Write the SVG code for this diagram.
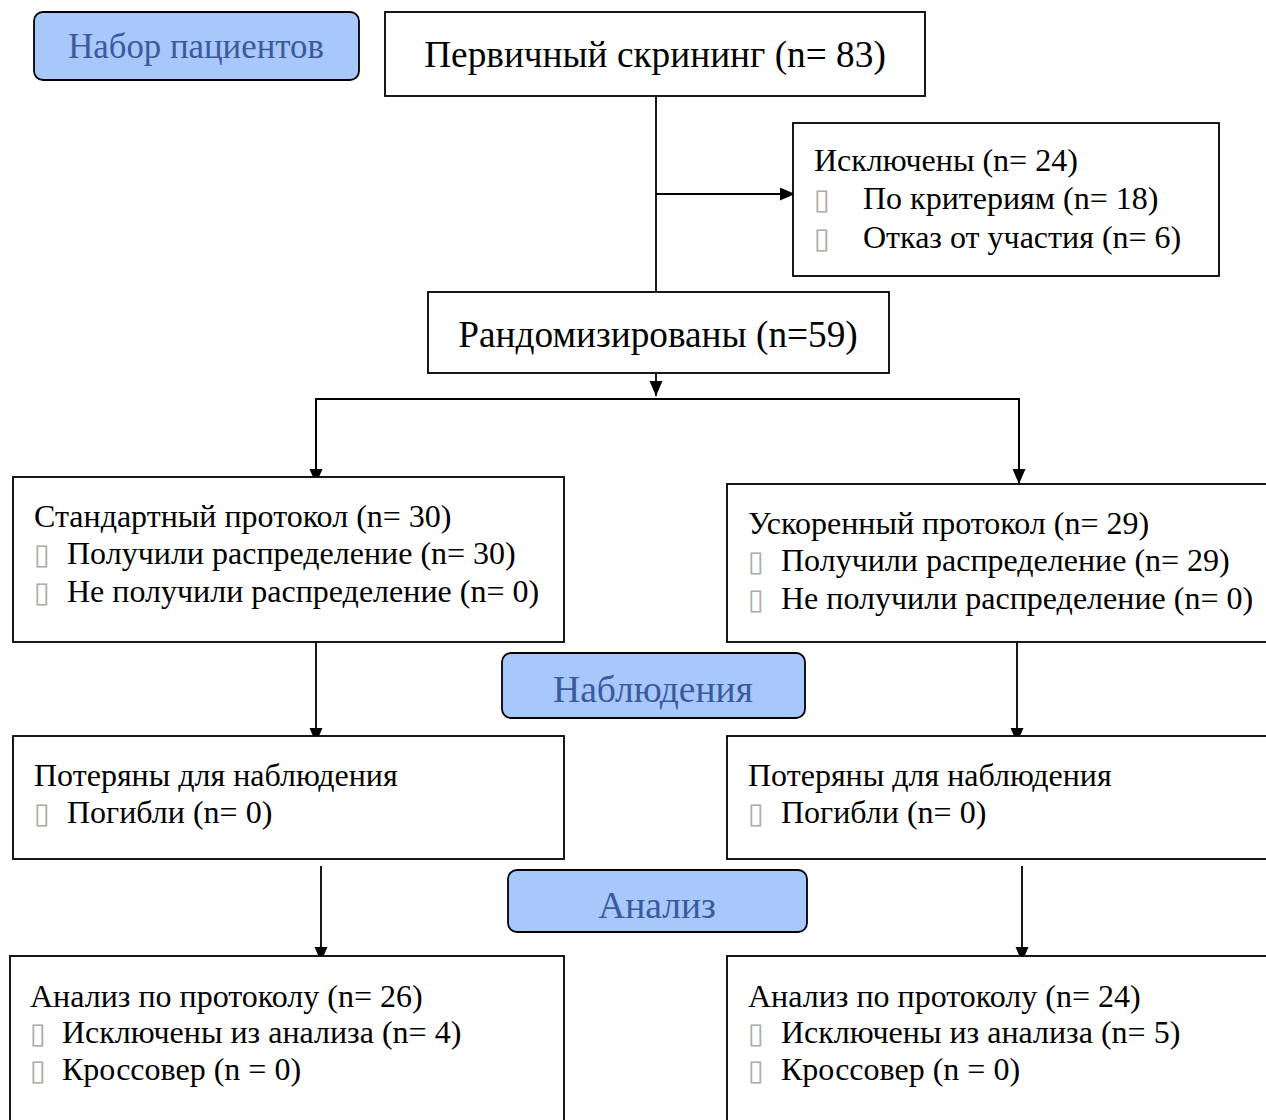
<svg xmlns="http://www.w3.org/2000/svg" width="1266" height="1120" viewBox="0 0 1266 1120">
<style>
.box{fill:#fff;stroke:#000;stroke-width:1.8}
.lab{fill:#a8c7fa;stroke:#000;stroke-width:1.8}
.t{font-family:"Liberation Serif","Times New Roman",serif;font-size:32px;fill:#000}
.tb{font-family:"Liberation Serif","Times New Roman",serif;font-size:37.3px;fill:#000}
.tl{font-family:"Liberation Serif","Times New Roman",serif;font-size:37.5px;fill:#3a5a9c}
.b{font-family:"DejaVu Sans",sans-serif;fill:#aaa;font-size:29px}
.c{stroke:#000;stroke-width:1.8;fill:none}
</style>
<defs>
<marker id="ah" markerUnits="userSpaceOnUse" markerWidth="16" markerHeight="14" refX="15" refY="6.5" orient="auto">
<path d="M0,0 L15,6.5 L0,13 z" fill="#000"/>
</marker>
</defs>
<rect width="1266" height="1120" fill="#fff"/>
<g id="connectors">
<line class="c" x1="656" y1="96" x2="656" y2="292"/>
<line class="c" x1="656" y1="194" x2="795" y2="194" marker-end="url(#ah)"/>
<line class="c" x1="656" y1="373" x2="656" y2="396" marker-end="url(#ah)"/>
<polyline class="c" points="316,483 316,399 1019,399 1019,484"/>
<line class="c" x1="316" y1="399" x2="316" y2="484" marker-end="url(#ah)"/>
<line class="c" x1="1019" y1="399" x2="1019" y2="484" marker-end="url(#ah)"/>
<line class="c" x1="316" y1="642" x2="316" y2="743" marker-end="url(#ah)"/>
<line class="c" x1="1017" y1="642" x2="1017" y2="743" marker-end="url(#ah)"/>
<line class="c" x1="321" y1="866" x2="321" y2="962" marker-end="url(#ah)"/>
<line class="c" x1="1022" y1="866" x2="1022" y2="962" marker-end="url(#ah)"/>
</g>
<g id="label-recruit">
<rect class="lab" x="34" y="12" width="325" height="68" rx="9"/>
<text class="tl" x="196" y="58" text-anchor="middle" style="font-size:34.8px">Набор пациентов</text>
</g>
<g id="screening">
<rect class="box" x="385" y="12" width="540" height="84"/>
<text class="tb" x="655" y="67" text-anchor="middle">Первичный скрининг (n= 83)</text>
</g>
<g id="excluded">
<rect class="box" x="793" y="123" width="426" height="153"/>
<text class="t" x="814" y="171">Исключены (n= 24)</text>
<text class="t" x="814" y="209"><tspan class="b">▯</tspan><tspan x="863">По критериям (n= 18)</tspan></text>
<text class="t" x="814" y="248"><tspan class="b">▯</tspan><tspan x="863">Отказ от участия (n= 6)</tspan></text>
</g>
<g id="randomized">
<rect class="box" x="428" y="292" width="461" height="81"/>
<text class="tb" x="658" y="347" text-anchor="middle">Рандомизированы (n=59)</text>
</g>
<g id="standard">
<rect class="box" x="13" y="477" width="551" height="165"/>
<text class="t" x="34" y="527">Стандартный протокол (n= 30)</text>
<text class="t" x="34" y="564"><tspan class="b">▯</tspan><tspan x="67">Получили распределение (n= 30)</tspan></text>
<text class="t" x="34" y="602"><tspan class="b">▯</tspan><tspan x="67">Не получили распределение (n= 0)</tspan></text>
</g>
<g id="accelerated">
<rect class="box" x="727" y="484" width="545" height="158"/>
<text class="t" x="748" y="534">Ускоренный протокол (n= 29)</text>
<text class="t" x="748" y="571"><tspan class="b">▯</tspan><tspan x="781">Получили распределение (n= 29)</tspan></text>
<text class="t" x="748" y="609"><tspan class="b">▯</tspan><tspan x="781">Не получили распределение (n= 0)</tspan></text>
</g>
<g id="label-followup">
<rect class="lab" x="502" y="653" width="303" height="65" rx="9"/>
<text class="tl" x="653" y="702" text-anchor="middle">Наблюдения</text>
</g>
<g id="lost-left">
<rect class="box" x="13" y="736" width="551" height="123"/>
<text class="t" x="34" y="786">Потеряны для наблюдения</text>
<text class="t" x="34" y="823"><tspan class="b">▯</tspan><tspan x="67">Погибли (n= 0)</tspan></text>
</g>
<g id="lost-right">
<rect class="box" x="727" y="736" width="545" height="123"/>
<text class="t" x="748" y="786">Потеряны для наблюдения</text>
<text class="t" x="748" y="823"><tspan class="b">▯</tspan><tspan x="781">Погибли (n= 0)</tspan></text>
</g>
<g id="label-analysis">
<rect class="lab" x="508" y="870" width="299" height="62" rx="9"/>
<text class="tl" x="657" y="918" text-anchor="middle">Анализ</text>
</g>
<g id="analysis-left">
<rect class="box" x="10" y="956" width="554" height="180"/>
<text class="t" x="30" y="1007">Анализ по протоколу (n= 26)</text>
<text class="t" x="30" y="1043"><tspan class="b">▯</tspan><tspan x="62">Исключены из анализа (n= 4)</tspan></text>
<text class="t" x="30" y="1080"><tspan class="b">▯</tspan><tspan x="62">Кроссовер (n = 0)</tspan></text>
</g>
<g id="analysis-right">
<rect class="box" x="727" y="956" width="545" height="180"/>
<text class="t" x="748" y="1007">Анализ по протоколу (n= 24)</text>
<text class="t" x="748" y="1043"><tspan class="b">▯</tspan><tspan x="781">Исключены из анализа (n= 5)</tspan></text>
<text class="t" x="748" y="1080"><tspan class="b">▯</tspan><tspan x="781">Кроссовер (n = 0)</tspan></text>
</g>
</svg>
